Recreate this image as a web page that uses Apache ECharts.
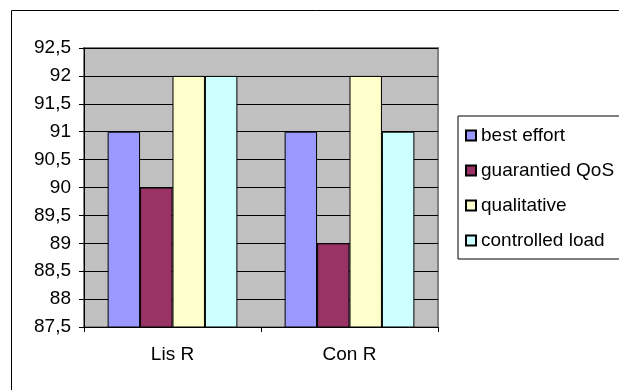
<!DOCTYPE html>
<html>
<head>
<meta charset="utf-8">
<script src="https://cdn.jsdelivr.net/npm/echarts@6/dist/echarts.min.js"></script>
<style>
  html, body { margin: 0; padding: 0; background: #fff; }
  #chart { width: 619px; height: 390px; }
</style>
</head>
<body>
<div id="chart"></div>
<script>
// data
var categories = ['Lis R', 'Con R'];
var seriesNames = ['best effort', 'guarantied QoS', 'qualitative', 'controlled load'];
var bestEffort = [91, 91];
var guarantiedQos = [90, 89];
var qualitative = [92, 92];
var controlledLoad = [92, 91];
var colors = ['#9999ff', '#993366', '#ffffcc', '#ccffff'];

var FONT = '"Liberation Sans", Arial, sans-serif';
var values = [bestEffort, guarantiedQos, qualitative, controlledLoad];

var chart = echarts.init(document.getElementById('chart'));

function makeSeries() {
  var out = [];
  for (var i = 0; i < seriesNames.length; i++) {
    out.push({
      name: seriesNames[i],
      type: 'bar',
      data: values[i],
      barGap: '0%',
      barCategoryGap: '26.7%',
      itemStyle: { color: colors[i], borderColor: '#000', borderWidth: 1 },
      emphasis: { disabled: true }
    });
  }
  return out;
}

var option = {
  animation: false,
  textStyle: { fontFamily: FONT },
  graphic: [{
    type: 'rect',
    shape: { x: 11.5, y: 10.5, width: 700, height: 500 },
    style: { fill: 'none', stroke: '#000', lineWidth: 1 },
    z: 0
  }],
  grid: {
    left: 84, top: 48, right: 181, bottom: 63,
    show: true,
    backgroundColor: '#c0c0c0',
    borderColor: '#808080',
    borderWidth: 2
  },
  legend: {
    orient: 'vertical',
    left: 458, top: 116,
    padding: [10, 12, 9, 7],
    itemWidth: 10, itemHeight: 10,
    itemGap: 16,
    backgroundColor: '#fff',
    borderColor: '#000',
    borderWidth: 1,
    borderRadius: 0,
    icon: 'rect',
    textStyle: { fontFamily: FONT, fontSize: 19, color: '#000', lineHeight: 19 },
    data: seriesNames
  },
  xAxis: {
    type: 'category',
    data: categories,
    axisLine: { lineStyle: { color: '#000', width: 1 } },
    axisTick: { show: true, length: 5, lineStyle: { color: '#000' } },
    axisLabel: { color: '#000', fontSize: 19, fontFamily: FONT, margin: 18 }
  },
  yAxis: {
    type: 'value',
    min: 87.5, max: 92.5, interval: 0.5,
    axisLine: { show: true, lineStyle: { color: '#000', width: 1 } },
    axisTick: { show: true, length: 5, lineStyle: { color: '#000' } },
    splitLine: { lineStyle: { color: '#000', width: 1 } },
    axisLabel: {
      color: '#000', fontSize: 19, fontFamily: FONT, margin: 13,
      formatter: function (v) { return String(v).replace('.', ','); }
    }
  },
  series: makeSeries()
};

chart.setOption(option);
</script>
</body>
</html>
